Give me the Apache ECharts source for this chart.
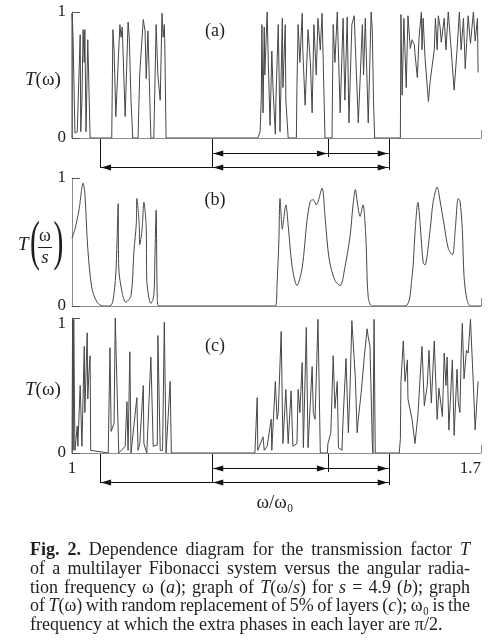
<!DOCTYPE html>
<html>
<head>
<meta charset="utf-8">
<script src="https://cdn.jsdelivr.net/npm/echarts@6/dist/echarts.min.js"></script>
<style>
  html, body { margin: 0; padding: 0; background: #fff; }
  #main { width: 494px; height: 640px; }
</style>
</head>
<body>
<div id="main"></div>
<script>
// transmission T vs omega/omega0 as [omega, T]
var panelA = [
  [1.000,0],[1.000,0.99],[1.001,0.9],[1.002,0.76],[1.005,0.04],[1.009,0.05],[1.014,0.82],[1.015,0.05],
  [1.017,0.3],[1.019,0.86],[1.021,0.6],[1.022,0.86],[1.024,0.05],[1.026,0.05],[1.027,0.78],[1.031,0],
  [1.068,0],[1.070,0.86],[1.072,0.7],[1.075,0.17],[1.079,0.6],[1.082,0.9],[1.084,0.8],[1.086,0.88],
  [1.091,0.17],[1.096,0.92],[1.098,0.8],[1.101,0.3],[1.104,0],[1.113,0],[1.116,0.52],[1.122,0.94],
  [1.125,0.85],[1.127,0.47],[1.130,0.85],[1.135,0],[1.140,0],[1.144,0.9],[1.147,0.5],[1.151,0.3],
  [1.154,0.99],[1.156,0.8],[1.158,0.9],[1.159,0.7],[1.161,0],
  [1.318,0],[1.322,0.05],[1.324,0.32],[1.325,0.9],[1.327,0.2],[1.329,0.88],[1.330,0.5],[1.334,1.0],
  [1.336,0.6],[1.339,0.1],[1.342,0.69],[1.344,0.4],[1.348,0.03],[1.349,0.3],[1.353,0.9],[1.356,0.05],
  [1.360,0.95],[1.361,0.4],[1.365,0.9],[1.366,0.3],[1.370,0],[1.384,0],[1.385,0.4],[1.387,0.9],
  [1.390,0.6],[1.394,0.99],[1.395,0.7],[1.399,0.26],[1.404,0.86],[1.408,0.6],[1.411,0.2],[1.414,0.9],
  [1.418,0.5],[1.421,0.95],[1.425,0.7],[1.428,0.99],[1.430,0.6],[1.433,0],
  [1.445,0],[1.447,0.9],[1.450,0.6],[1.454,1.0],[1.459,0.2],[1.464,0.95],[1.467,0.3],[1.471,0.96],
  [1.474,0.12],[1.479,0.9],[1.483,0.97],[1.486,0.6],[1.490,0.12],[1.497,0.9],[1.499,0.5],[1.502,0.95],
  [1.507,0.12],[1.512,1.0],[1.514,0.85],[1.516,0.3],[1.518,0],
  [1.562,0],[1.563,0.98],[1.565,0.34],[1.568,0.95],[1.572,0.4],[1.575,0.97],[1.579,0.71],[1.582,0.78],
  [1.586,0.74],[1.587,0.67],[1.591,0.48],[1.594,0.8],[1.598,1.0],[1.599,0.7],[1.601,0.95],[1.604,0.65],
  [1.610,0.29],[1.613,0.45],[1.620,0.7],[1.622,0.95],[1.625,0.7],[1.627,0.97],[1.630,0.88],[1.632,0.76],
  [1.637,0.95],[1.640,0.7],[1.644,1.0],[1.649,0.7],[1.654,0.38],[1.659,0.7],[1.663,1.0],[1.666,0.7],
  [1.670,0.95],[1.673,0.55],[1.678,0.97],[1.682,0.75],[1.687,1.0],[1.690,0.77],[1.694,0.95],[1.695,0.52]
];

var panelB = [
  [1.000,0.53],[1.005,0.6],[1.012,0.75],[1.019,0.96],[1.022,0.88],[1.027,0.45],[1.034,0.14],[1.043,0.03],
  [1.053,0],[1.065,0],[1.070,0.04],[1.075,0.25],[1.077,0.5],[1.079,0.8],[1.080,0.3],[1.086,0.1],
  [1.092,0.03],[1.101,0.08],[1.106,0.43],[1.110,0.64],[1.111,0.84],[1.115,0.64],[1.116,0.48],[1.120,0.6],
  [1.123,0.81],[1.127,0.62],[1.128,0.2],[1.135,0.02],[1.140,0.08],[1.142,0.4],[1.144,0.75],[1.146,0.06],
  [1.149,0],
  [1.348,0],[1.351,0.18],[1.354,0.5],[1.356,0.84],[1.360,0.6],[1.361,0.63],[1.366,0.79],[1.370,0.63],
  [1.377,0.3],[1.385,0.16],[1.394,0.3],[1.402,0.66],[1.408,0.82],[1.413,0.83],[1.418,0.79],[1.428,0.92],
  [1.433,0.7],[1.440,0.37],[1.450,0.2],[1.459,0.16],[1.467,0.3],[1.476,0.55],[1.481,0.79],[1.485,0.91],
  [1.488,0.82],[1.493,0.7],[1.498,0.79],[1.503,0.53],[1.507,0.07],[1.514,0],
  [1.570,0],[1.582,0.23],[1.587,0.57],[1.592,0.81],[1.596,0.63],[1.601,0.34],[1.604,0.32],[1.613,0.6],
  [1.618,0.81],[1.625,0.93],[1.630,0.82],[1.637,0.63],[1.644,0.45],[1.651,0.4],[1.656,0.6],[1.661,0.84],
  [1.664,0.82],[1.668,0.6],[1.671,0.23],[1.676,0.05],[1.682,0],[1.700,0]
];

var panelC = [
  [1.000,0],[1.001,0.99],[1.002,0.02],[1.003,0.99],[1.005,0.02],[1.009,0.2],[1.010,0.05],[1.014,0.5],
  [1.017,0.05],[1.021,0.79],[1.022,0.3],[1.026,0.89],[1.027,0.4],[1.029,0.6],[1.031,0.72],[1.032,0.02],
  [1.062,0],[1.065,0.78],[1.067,0.16],[1.072,0.22],[1.074,1.0],[1.077,1.0],[1.080,0],[1.091,0.05],
  [1.094,0.38],[1.096,0.02],[1.099,0.75],[1.101,0],[1.111,0.41],[1.113,0.02],[1.116,0.07],[1.122,0.5],
  [1.123,0.07],[1.128,0],[1.135,0.71],[1.139,0.05],[1.146,0.06],[1.147,0.87],[1.151,0.02],[1.155,0.02],
  [1.158,0.97],[1.161,0],[1.168,0.53],[1.170,0],
  [1.313,0],[1.317,0.41],[1.318,0.02],[1.327,0.12],[1.329,0.02],[1.334,0.05],[1.341,0.25],[1.342,0.02],
  [1.348,0.53],[1.351,0.25],[1.353,0.3],[1.358,0.9],[1.361,0.07],[1.366,0.47],[1.370,0.07],[1.375,0.46],
  [1.378,0.05],[1.385,0.07],[1.387,0.47],[1.390,0.3],[1.394,0.67],[1.396,0.04],[1.401,0.93],[1.404,0.04],
  [1.411,0.64],[1.413,0.3],[1.416,0.25],[1.421,0.99],[1.425,0],
  [1.437,0],[1.438,0.07],[1.443,0.15],[1.447,0.72],[1.450,0.33],[1.454,0.53],[1.456,0.04],[1.462,0.02],
  [1.464,0.25],[1.469,0.7],[1.473,0.15],[1.476,0.5],[1.479,0.98],[1.485,0.55],[1.488,0.15],[1.490,0.25],
  [1.495,0.45],[1.500,0.7],[1.505,0.92],[1.507,0.86],[1.510,0.79],[1.514,0.07],[1.515,0],[1.517,0.99],
  [1.519,0],
  [1.560,0],[1.562,0.1],[1.563,0.53],[1.567,0.83],[1.570,0.53],[1.574,0.69],[1.575,0.4],[1.582,0.25],
  [1.587,0.07],[1.592,0.28],[1.599,0.79],[1.603,0.35],[1.608,0.5],[1.611,0.76],[1.615,0.37],[1.620,0.83],
  [1.625,0.25],[1.628,0.48],[1.634,0.27],[1.637,0.74],[1.640,0.5],[1.642,0.71],[1.645,0.17],[1.651,0.69],
  [1.654,0.13],[1.659,0.62],[1.661,0.38],[1.664,0.3],[1.666,0.72],[1.668,0.96],[1.671,0.55],[1.675,0.76],
  [1.678,0.74],[1.682,0.99],[1.685,0.99],[1.687,0.5],[1.690,0.17],[1.695,0.53]
];

var xTicks = [1, 1.7];
var yTicks = [0, 1];
var panelNames = ['(a)', '(b)', '(c)'];

// band marks under panels (a) and (c), in omega
var bandEdges = [1.048, 1.240, 1.438, 1.542];
var upperArrows = [[1.240, 1.438, 'both'], [1.438, 1.542, 'end']];
var lowerArrows = [[1.048, 1.240, 'start'], [1.240, 1.542, 'both']];

var captionLines = [
  '{b|Fig.} {b|2.} Dependence diagram for the transmission factor {i|T}',
  'of a multilayer Fibonacci system versus the angular radia-',
  'tion frequency ω ({i|a}); graph of {i|T}(ω/{i|s}) for {i|s} = 4.9 ({i|b}); graph',
  'of {i|T}(ω) with random replacement of 5% of layers ({i|c}); ω₀ is the',
  'frequency at which the extra phases in each layer are π/2.'
];

var SERIF = '"Liberation Serif", "DejaVu Serif", serif';
var INK = '#1e1e1e';
var AXIS = '#8c8c8c';

var chart = echarts.init(document.getElementById('main'));

var grids = [
  { left: 72, right: 13, top: 12, height: 126 },
  { left: 72, right: 13, top: 178, height: 128 },
  { left: 72, right: 13, top: 318, height: 135 }
];

var xAxes = [], yAxes = [], series = [];
[panelA, panelB, panelC].forEach(function (data, i) {
  xAxes.push({
    type: 'value', gridIndex: i, min: xTicks[0], max: xTicks[1],
    interval: xTicks[1] - xTicks[0],
    axisLine: { lineStyle: { color: AXIS, width: 1 } },
    axisTick: { inside: true, length: 8, lineStyle: { color: AXIS } },
    axisLabel: {
      show: i === 2, fontFamily: SERIF, fontSize: 17, color: INK, margin: 7,
      alignMaxLabel: 'right'
    },
    splitLine: { show: false }
  });
  yAxes.push({
    type: 'value', gridIndex: i, min: yTicks[0], max: yTicks[1],
    interval: yTicks[1] - yTicks[0],
    axisLine: { show: true, lineStyle: { color: AXIS, width: 1 } },
    axisTick: { show: true, inside: true, length: 8, lineStyle: { color: '#555' } },
    axisLabel: {
      fontFamily: SERIF, fontSize: 17, color: INK, margin: 6,
      // the bottom panel's "1" sits a little lower, clear of the "0" above it
      formatter: i === 2 ? function (v) { return v === 1 ? '{lo|1}' : String(v); } : null,
      rich: { lo: { fontFamily: SERIF, fontSize: 17, color: INK, padding: [12, 0, 0, 0] } }
    },
    splitLine: { show: false }
  });
  series.push({
    type: 'line', xAxisIndex: i, yAxisIndex: i, data: data,
    showSymbol: false, smooth: i === 1 ? 0.3 : false,
    lineStyle: { color: '#474747', width: 1 },
    animation: false
  });
});

chart.setOption({
  backgroundColor: '#fff',
  animation: false,
  grid: grids,
  xAxis: xAxes,
  yAxis: yAxes,
  series: series
});

// --- annotations: arrows, labels, caption ---
var g = [];

function px(gi, x, y) { return chart.convertToPixel({ gridIndex: gi }, [x, y]); }

function head(x, y, dir) {
  return { type: 'polygon', shape: { points: [[x, y], [x - dir * 10, y - 3], [x - dir * 10, y + 3]] },
           style: { fill: '#111' } };
}

function line(x1, y1, x2, y2) {
  return { type: 'line', shape: { x1: x1, y1: y1, x2: x2, y2: y2 },
           style: { stroke: '#111', lineWidth: 1 } };
}

var drops = [30, 30, 19, 32];
[0, 2].forEach(function (gi) {
  var y0 = px(gi, 1, 0)[1];
  bandEdges.forEach(function (w, k) {
    var x = Math.round(px(gi, w, 0)[0]) + 0.5;
    g.push(line(x, y0, x, y0 + drops[k]));
  });
  [[upperArrows, 15.5], [lowerArrows, 29.5]].forEach(function (row) {
    var y = y0 + row[1];
    row[0].forEach(function (a) {
      var xa = px(gi, a[0], 0)[0], xb = px(gi, a[1], 0)[0];
      g.push(line(xa, y, xb, y));
      if (a[2] === 'both' || a[2] === 'start') g.push(head(xa + 1, y, -1));
      if (a[2] === 'both' || a[2] === 'end') g.push(head(xb - 1, y, 1));
    });
  });
});

// panel tags
[31, 200, 346].forEach(function (y, i) {
  g.push({ type: 'text', x: 215, y: y,
           style: { text: panelNames[i], fontFamily: SERIF, fontSize: 18, fill: INK,
                    align: 'center', verticalAlign: 'middle' } });
});

// y titles
var richI = { i: { fontStyle: 'italic', fontFamily: SERIF, fontSize: 19, fill: INK } };
[80, 390].forEach(function (y) {
  g.push({ type: 'text', x: 25, y: y,
           style: { text: '{i|T}(ω)', rich: richI, fontFamily: SERIF, fontSize: 19, fill: INK,
                    verticalAlign: 'middle' } });
});
g.push({ type: 'text', x: 18, y: 245,
         style: { text: 'T', fontStyle: 'italic', fontFamily: SERIF, fontSize: 19, fill: INK, verticalAlign: 'middle' } });
g.push({ type: 'text', x: 30, y: 245, scaleX: 0.55,
         style: { text: '(', fontFamily: SERIF, fontSize: 54, fill: INK, verticalAlign: 'middle' } });
g.push({ type: 'text', x: 53.5, y: 245, scaleX: 0.55,
         style: { text: ')', fontFamily: SERIF, fontSize: 54, fill: INK, verticalAlign: 'middle' } });
g.push({ type: 'text', x: 45, y: 236,
         style: { text: 'ω', fontFamily: SERIF, fontSize: 18, fill: INK, align: 'center', verticalAlign: 'middle' } });
g.push({ type: 'line', shape: { x1: 38, y1: 247.5, x2: 52, y2: 247.5 }, style: { stroke: INK, lineWidth: 1 } });
g.push({ type: 'text', x: 45, y: 258,
         style: { text: 's', fontStyle: 'italic', fontFamily: SERIF, fontSize: 19, fill: INK, align: 'center', verticalAlign: 'middle' } });

// x title
g.push({ type: 'text', x: 275, y: 503,
         style: { text: 'ω/ω₀', fontFamily: SERIF, fontSize: 19, fill: INK, align: 'center', verticalAlign: 'middle' } });

// caption, justified word by word
var CAP_SIZE = 18, CAP_LEFT = 30, CAP_RIGHT = 470, CAP_TOP = 550, CAP_LEAD = 18.9;
var ctx = document.createElement('canvas').getContext('2d');
function parts(word) {
  var out = [], re = /\{(\w)\|([^}]*)\}|([^{]+)/g, m;
  while ((m = re.exec(word))) out.push(m[3] ? { t: m[3], s: '' } : { t: m[2], s: m[1] });
  return out;
}
function fontOf(s) {
  return (s === 'i' ? 'italic ' : '') + (s === 'b' ? 'bold ' : '') + CAP_SIZE + 'px ' + SERIF;
}
function wordWidth(word) {
  return parts(word).reduce(function (acc, p) { ctx.font = fontOf(p.s); return acc + ctx.measureText(p.t).width; }, 0);
}
var capRich = {
  i: { fontStyle: 'italic', fontFamily: SERIF, fontSize: CAP_SIZE, fill: INK },
  b: { fontWeight: 'bold', fontFamily: SERIF, fontSize: CAP_SIZE, fill: INK }
};
captionLines.forEach(function (ln, li) {
  var words = ln.split(' ');
  var widths = words.map(wordWidth);
  var total = widths.reduce(function (a, b) { return a + b; }, 0);
  var last = li === captionLines.length - 1;
  ctx.font = fontOf('');
  var gap = last ? ctx.measureText(' ').width : (CAP_RIGHT - CAP_LEFT - total) / (words.length - 1);
  var x = CAP_LEFT, y = CAP_TOP + li * CAP_LEAD;
  words.forEach(function (w, k) {
    g.push({ type: 'text', x: x, y: y,
             style: { text: w, rich: capRich, fontFamily: SERIF, fontSize: CAP_SIZE, fill: INK,
                      verticalAlign: 'middle' } });
    x += widths[k] + gap;
  });
});

chart.setOption({ graphic: g });
</script>
</body>
</html>
